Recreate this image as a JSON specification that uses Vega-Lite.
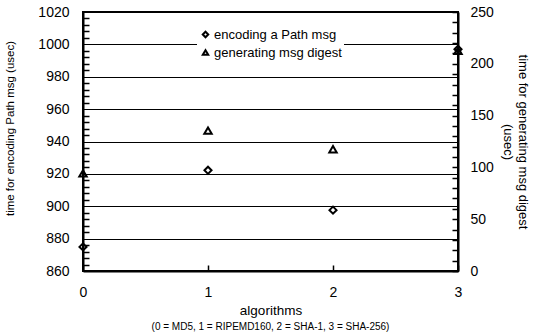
{
  "$schema": "https://vega.github.io/schema/vega-lite/v6.json",
  "width": 375,
  "height": 259,
  "autosize": {"type": "none"},
  "padding": {"left": 83, "top": 12, "right": 78, "bottom": 64},
  "background": "white",
  "config": {
    "view": {"stroke": "black", "strokeWidth": 2},
    "font": "Liberation Sans",
    "axis": {"labelColor": "black", "titleColor": "black", "titleFontWeight": "normal", "labelFlush": false, "labelOverlap": false, "labelBound": false, "domainColor": "black", "domainWidth": 2, "ticks": false, "gridColor": "black"}
  },
  "title": {"text": "(0 = MD5, 1 = RIPEMD160, 2 = SHA-1, 3 = SHA-256)", "orient": "bottom", "anchor": "middle", "fontSize": 10, "fontWeight": "normal", "color": "black", "offset": 5},
  "data": {
    "values": [
      {"alg": 0, "series": "encoding a Path msg", "value": 874.9},
      {"alg": 1, "series": "encoding a Path msg", "value": 922.2},
      {"alg": 2, "series": "encoding a Path msg", "value": 897.6},
      {"alg": 3, "series": "encoding a Path msg", "value": 997},
      {"alg": 0, "series": "generating msg digest", "value": 94.2},
      {"alg": 1, "series": "generating msg digest", "value": 135.5},
      {"alg": 2, "series": "generating msg digest", "value": 117.5},
      {"alg": 3, "series": "generating msg digest", "value": 212.5}
    ]
  },
  "layer": [
    {
      "transform": [{"filter": "datum.series == 'encoding a Path msg'"}],
      "mark": {"type": "point", "filled": false, "color": "black", "strokeWidth": 2, "size": 50, "opacity": 1},
      "encoding": {
        "x": {"field": "alg", "type": "quantitative", "scale": {"domain": [0, 3]},
          "axis": {"values": [0, 1, 2, 3], "format": "d", "title": "algorithms", "titleFontSize": 13.5, "labelFontSize": 14, "labelPadding": 14, "titlePadding": 4,
            "grid": true, "gridWidth": 1.5, "gridDash": [40, 1000], "gridDashOffset": 787}},
        "y": {"field": "value", "type": "quantitative", "scale": {"domain": [860, 1020]},
          "axis": {
            "values": [860,864,868,872,876,880,884,888,892,896,900,904,908,912,916,920,924,928,932,936,940,944,948,952,956,960,964,968,972,976,980,984,988,992,996,1000,1004,1008,1012,1016,1020],
            "labelExpr": "datum.value % 20 == 0 ? datum.label : ''",
            "format": "d",
            "labelPadding": 14,
            "labelFontSize": 14,
            "grid": true,
            "gridWidth": {"condition": {"test": "datum.value % 20 == 0", "value": 1}, "value": 1.5},
            "gridDash": {"condition": {"test": "datum.value % 20 == 0", "value": []}, "value": [40, 1000]},
            "gridDashOffset": 34,
            "title": "time for encoding Path msg (usec)",
            "titleFontSize": 11.5,
            "titleY": 116,
            "titleX": -68
          }},
        "shape": {"field": "series", "type": "nominal",
          "scale": {"domain": ["encoding a Path msg", "generating msg digest"], "range": ["diamond", "triangle-up"]},
          "legend": {"orient": "none", "legendX": 114, "legendY": 14, "title": null, "fillColor": "white", "padding": 2, "labelFontSize": 13, "labelColor": "black", "symbolSize": 30, "symbolStrokeWidth": 2, "symbolStrokeColor": "black", "symbolFillColor": "white", "rowPadding": 4, "labelOffset": 2}}
      }
    },
    {
      "transform": [{"filter": "datum.series == 'generating msg digest'"}],
      "mark": {"type": "point", "filled": false, "color": "black", "strokeWidth": 2, "size": 55, "opacity": 1},
      "encoding": {
        "x": {"field": "alg", "type": "quantitative", "scale": {"domain": [0, 3]}},
        "y": {"field": "value", "type": "quantitative", "scale": {"domain": [0, 250]},
          "axis": {
            "orient": "right",
            "values": [0,10,20,30,40,50,60,70,80,90,100,110,120,130,140,150,160,170,180,190,200,210,220,230,240,250],
            "labelExpr": "datum.value % 50 == 0 ? datum.label : ''",
            "format": "d",
            "labelPadding": 12,
            "labelFontSize": 14,
            "grid": true,
            "gridWidth": 1.5,
            "gridDash": [40, 1000],
            "gridDashOffset": 34,
            "title": ["time for generating msg digest", "(usec)"],
            "titleFontSize": 13,
            "titlePadding": 7
          }},
        "shape": {"field": "series", "type": "nominal"}
      }
    }
  ],
  "resolve": {"scale": {"y": "independent"}}
}
